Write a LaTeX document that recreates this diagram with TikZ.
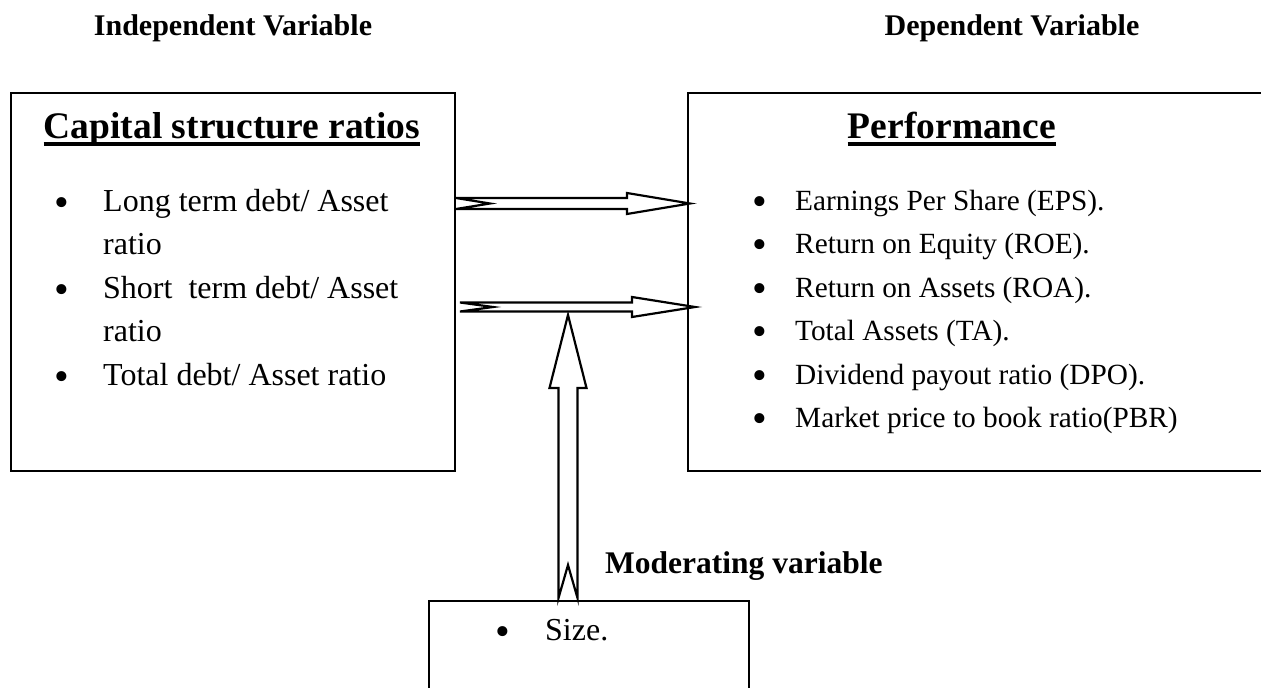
\documentclass[tikz,border=0pt]{standalone}
\usepackage{fontspec}
\setmainfont{Liberation Serif}
\begin{document}
\begin{tikzpicture}[x=1pt,y=-1pt,
  box/.style={draw, line width=2pt, inner sep=0pt, anchor=north west},
  body/.style={inner sep=0pt, font=\fontsize{29.3}{35}\selectfont},
  bigbody/.style={inner sep=0pt, font=\fontsize{32}{38}\selectfont},
  txt/.style={body, anchor=base west},
  bigtxt/.style={bigbody, anchor=base west},
  bul/.style={inner sep=0pt, anchor=center, font=\fontsize{42}{42}\selectfont},
  head/.style={inner sep=0pt, anchor=base, font=\fontsize{30}{36}\selectfont\bfseries},
  boxtitle/.style={inner sep=0pt, anchor=base, font=\fontsize{37.5}{44}\selectfont\bfseries},
  uline/.style={line width=3.5pt},
  blockarrow/.style={draw, line width=2.2pt, fill=white, line join=miter}]
\useasboundingbox (0,0) rectangle (1261,688);
\clip (0,0) rectangle (1261,688);

% column headings
\node[head] (indep) at (233,35) {Independent Variable};
\node[head] (dep) at (1012,35) {Dependent Variable};

% the three boxes
\node[box, minimum width=444pt, minimum height=378pt] (cap) at (10,92) {};
\node[box, minimum width=620pt, minimum height=378pt] (perf) at (687,92) {};
\node[box, minimum width=320pt, minimum height=150pt] (size) at (428,600) {};

% box titles, underlined
\node[boxtitle] (captitle) at (232,138) {Capital structure ratios};
\draw[uline] ([yshift=-6pt]captitle.base west) -- ([yshift=-6pt]captitle.base east);
\node[boxtitle] (perftitle) at (952,138) {Performance};
\draw[uline] ([yshift=-6pt]perftitle.base west) -- ([yshift=-6pt]perftitle.base east);

% independent variables
\node[bul] (cb1) at (62,207) {\textbullet};
\node[bigtxt] (ct1) at (103,211) {Long term debt/ Asset};
\node[bigtxt] (ct1b) at (103,254.5) {ratio};
\node[bul] (cb2) at (62,294) {\textbullet};
\node[bigtxt] (ct2) at (103,298) {Short\ \ term debt/ Asset};
\node[bigtxt] (ct2b) at (103,341.5) {ratio};
\node[bul] (cb3) at (62,381) {\textbullet};
\node[bigtxt] (ct3) at (103,385) {Total debt/ Asset ratio};

% dependent variables
\node[bul] (pb1) at (760,206) {\textbullet};
\node[txt] (pt1) at (795,210) {Earnings Per Share (EPS).};
\node[bul] (pb2) at (760,249.5) {\textbullet};
\node[txt] (pt2) at (795,253.5) {Return on Equity (ROE).};
\node[bul] (pb3) at (760,293) {\textbullet};
\node[txt] (pt3) at (795,297) {Return on Assets (ROA).};
\node[bul] (pb4) at (760,336.5) {\textbullet};
\node[txt] (pt4) at (795,340.5) {Total Assets (TA).};
\node[bul] (pb5) at (760,380) {\textbullet};
\node[txt] (pt5) at (795,384) {Dividend payout ratio (DPO).};
\node[bul] (pb6) at (760,423.5) {\textbullet};
\node[txt] (pt6) at (795,427.5) {Market price to book ratio(PBR)};

% moderating variable
\node[head, anchor=base west, font=\fontsize{31.5}{36}\selectfont\bfseries] (mod) at (605,573) {Moderating variable};
\node[bul] (sb1) at (503,636) {\textbullet};
\node[bigtxt] (st1) at (545,640) {Size.};

% hollow block arrows with notched tails
\draw[blockarrow] (456,198) -- (627,198) -- (627,193) -- (690,203.5)
  -- (627,214) -- (627,209) -- (456,209) -- (490,203.5) -- cycle;
\draw[blockarrow] (460,302.5) -- (632,302.5) -- (632,297) -- (695,307)
  -- (632,317) -- (632,311.5) -- (460,311.5) -- (493,307) -- cycle;
\draw[blockarrow] (558.5,598) -- (558.5,388) -- (549.5,388) -- (568,315)
  -- (586.5,388) -- (577.5,388) -- (577.5,598) -- (568,565) -- cycle;
\end{tikzpicture}
\end{document}
